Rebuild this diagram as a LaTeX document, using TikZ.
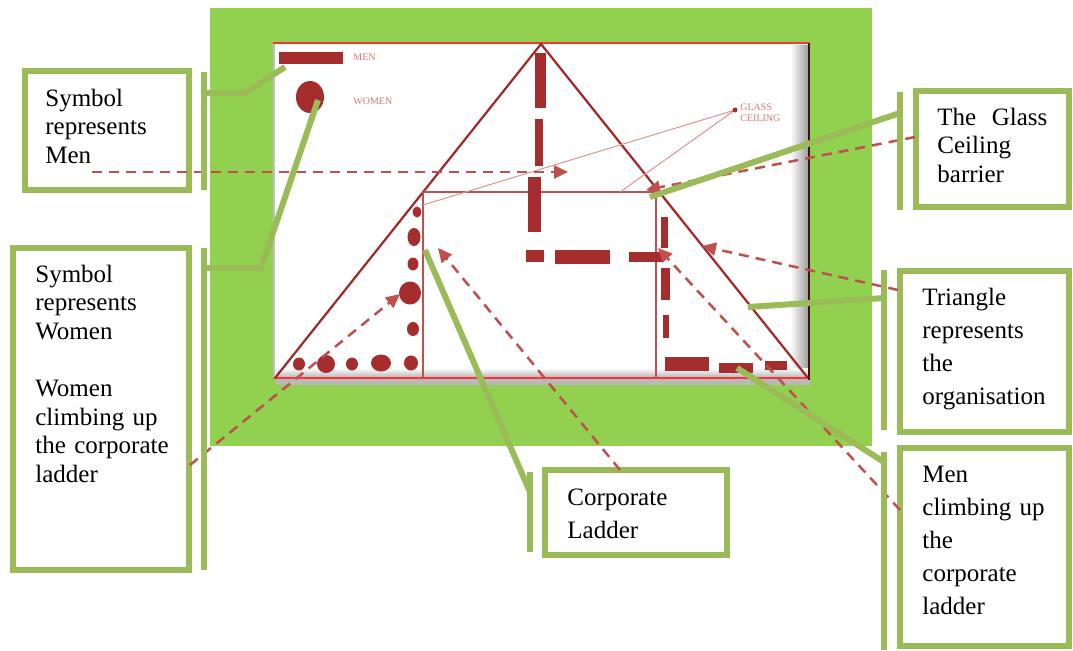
\documentclass[tikz,border=0pt]{standalone}
\usepackage{fontspec}
\setmainfont{Liberation Serif}
\newfontfamily\boxfont{Liberation Serif}
\usetikzlibrary{arrows.meta,positioning}
\definecolor{bggreen}{RGB}{146,208,80}
\definecolor{callgreen}{RGB}{155,187,89}
\definecolor{symred}{RGB}{165,45,45}
\definecolor{trired}{RGB}{160,40,40}
\definecolor{dashred}{RGB}{192,80,77}
\definecolor{rectred}{RGB}{190,80,78}
\definecolor{labelred}{RGB}{215,120,120}
\definecolor{edgedark}{RGB}{70,15,15}
\tikzset{
  callbox/.style={draw=callgreen, line width=3pt, fill=white, inner sep=0pt},
  calltext/.style={inner sep=0pt, anchor=base west, align=left,
    font=\boxfont\fontsize{12.5}{14.3}\selectfont},
  widelines/.style={font=\boxfont\fontsize{12.5}{16.5}\selectfont},
  callbar/.style={callgreen, line width=2.6pt},
  callline/.style={callgreen, line width=3pt},
  pointer/.style={dashred, line width=1.25pt, dash pattern=on 5pt off 3.5pt,
    -{Triangle[length=7pt,width=6.5pt]}},
  legendtext/.style={labelred, inner sep=0pt, anchor=base west,
    font=\boxfont\fontsize{5}{5.8}\selectfont}
}

\begin{document}
\begin{tikzpicture}[x=0.5pt, y=-0.5pt]
  \useasboundingbox (0,0) rectangle (1073,650);
  \fill[bggreen] (210,8) rectangle (872,446);

  % picture frame
  \fill[white] (273,43) rectangle (809,379);
  \shade[left color=white, right color=gray!75] (790,45) rectangle (808,378);
  \shade[top color=white, bottom color=gray!60] (276,368) rectangle (808,378);
  \fill[gray!55] (276,379) rectangle (810,385);
  \draw[red!80!white, line width=0.8pt] (273,43) -- (809,43);
  \draw[red!80!white, line width=1pt] (273,378) -- (809,378);
  \draw[edgedark, line width=1.3pt] (809,43) -- (809,380);
  \draw[gray!50, line width=1pt] (274,44) -- (274,378);

  % organisation and ladder
  \draw[trired, line width=1.1pt] (275,378) -- (541,44) -- (808,378);
  \draw[rectred, line width=1.2pt] (423,378) -- (423,192) -- (656,192) -- (656,378);

  % men
  \foreach \xa/\ya/\xb/\yb in {535/53/546/108, 535/119/543/166, 528/177/541/232,
      526/250/544/262, 555/250/610/264, 629/252/662/262, 661/217/668/248,
      661/268/670/300, 663/315/669/338, 665/357/709/371, 719/363/753/373,
      765/361/787/370}
    \fill[symred] (\xa,\ya) rectangle (\xb,\yb);

  % women
  \foreach \x/\y/\a/\b in {417/212/4.5/5.5, 414/237/6.5/9, 413/264/5.5/6.5,
      410/293/11/11.5, 413/329/6/7, 299/364/6/6.5, 326/364/9/9,
      352/364/6/6.5, 381/363/10/8.5, 411/363/7/7.5}
    \fill[symred] (\x,\y) ellipse ({\a} and {\b});

  % legend
  \fill[symred] (279,52) rectangle (343,64);
  \fill[symred] (310,97) ellipse (14 and 16);
  \node[legendtext] (menlabel) at (353,60) {MEN};
  \node[legendtext] (womenlabel) at (353,104) {WOMEN};
  \node[legendtext, text width=20pt] (glasslabel) at (740,110) {GLASS\\CEILING};
  \coordinate (glassdot) at (735,110);
  \coordinate (ceilleft) at (423,205);
  \coordinate (ceilmid) at (620,192);
  \draw[labelred!80, line width=0.5pt] (ceilleft) -- (glassdot) -- (ceilmid);
  \fill[symred] (glassdot) circle (2.5);

  % callouts
  \node[callbox, minimum width=82pt, minimum height=59.5pt] (menbox) at (107,130.5) {};
  \node[callbox, minimum width=88pt, minimum height=161pt] (womenbox) at (101,409) {};
  \node[callbox, minimum width=91pt, minimum height=42.5pt] (ladderbox) at (636,512.5) {};
  \node[callbox, minimum width=76.5pt, minimum height=58pt] (glassbox) at (992.5,149) {};
  \node[callbox, minimum width=84.5pt, minimum height=80.5pt] (trianglebox) at (984.5,351.5) {};
  \node[callbox, minimum width=84.5pt, minimum height=99pt] (menclimbbox) at (984.5,547) {};

  \node[calltext, text width=70pt] (mentext) at (45,106) {Symbol\\represents\\Men};
  \node[calltext, text width=75pt] (womentext) at (35,282)
    {Symbol\\represents\\Women\\[14.3pt]Women\\climbing up\\the corporate\\ladder};
  \node[calltext, widelines, text width=70pt] (laddertext) at (567,505) {Corporate\\Ladder};
  \node[calltext, text width=55pt] (glasstext) at (937,125) {The\hfill Glass\\Ceiling\\barrier};
  \node[calltext, widelines, text width=70pt] (triangletext) at (922,305)
    {Triangle\\represents\\the\\organisation};
  \node[calltext, widelines, text width=70pt] (menclimbtext) at (922,482)
    {Men\\climbing up\\the\\corporate\\ladder};

  % dashed pointers
  \coordinate (menfrom) at (92,172);
  \coordinate (mento) at (568,172);
  \coordinate (womenfrom) at (190,465);
  \coordinate (womento) at (400,294);
  \coordinate (ladderfrom) at (620,470);
  \coordinate (ladderto) at (438,248);
  \coordinate (trianglefrom) at (898,290);
  \coordinate (triangleto) at (702,246);
  \coordinate (menclimbfrom) at (900,510);
  \coordinate (menclimbto) at (658,248);
  \coordinate (glassfrom) at (915,137);
  \coordinate (glassto) at (646,190);
  \draw[pointer] (menfrom) -- (mento);
  \draw[pointer] (womenfrom) -- (womento);
  \draw[pointer] (ladderfrom) -- (ladderto);
  \draw[pointer] (trianglefrom) -- (triangleto);
  \draw[pointer] (menclimbfrom) -- (menclimbto);
  \draw[pointer] (glassfrom) -- (glassto);

  % green leaders
  \coordinate (mensym) at (285,67);
  \coordinate (womensym) at (318,100);
  \coordinate (ladderpt) at (425,250);
  \coordinate (glasspt) at (650,197);
  \coordinate (trianglept) at (748,307);
  \coordinate (menclimbpt) at (737,368);
  \draw[callbar] (204,72) -- (204,190);
  \draw[callline] (204,93) -- (245,93) -- (mensym);
  \draw[callbar] (204,248) -- (204,570);
  \draw[callline] (204,268) -- (261,268) -- (womensym);
  \draw[callbar] (530,472) -- (530,552);
  \draw[callline] (530,492) -- (ladderpt);
  \draw[callbar] (900,92) -- (900,210);
  \draw[callline] (900,113) -- (glasspt);
  \draw[callbar] (884,270) -- (884,430);
  \draw[callline] (884,298) -- (trianglept);
  \draw[callbar] (884,452) -- (884,650);
  \draw[callline] (884,462) -- (menclimbpt);
\end{tikzpicture}
\end{document}
